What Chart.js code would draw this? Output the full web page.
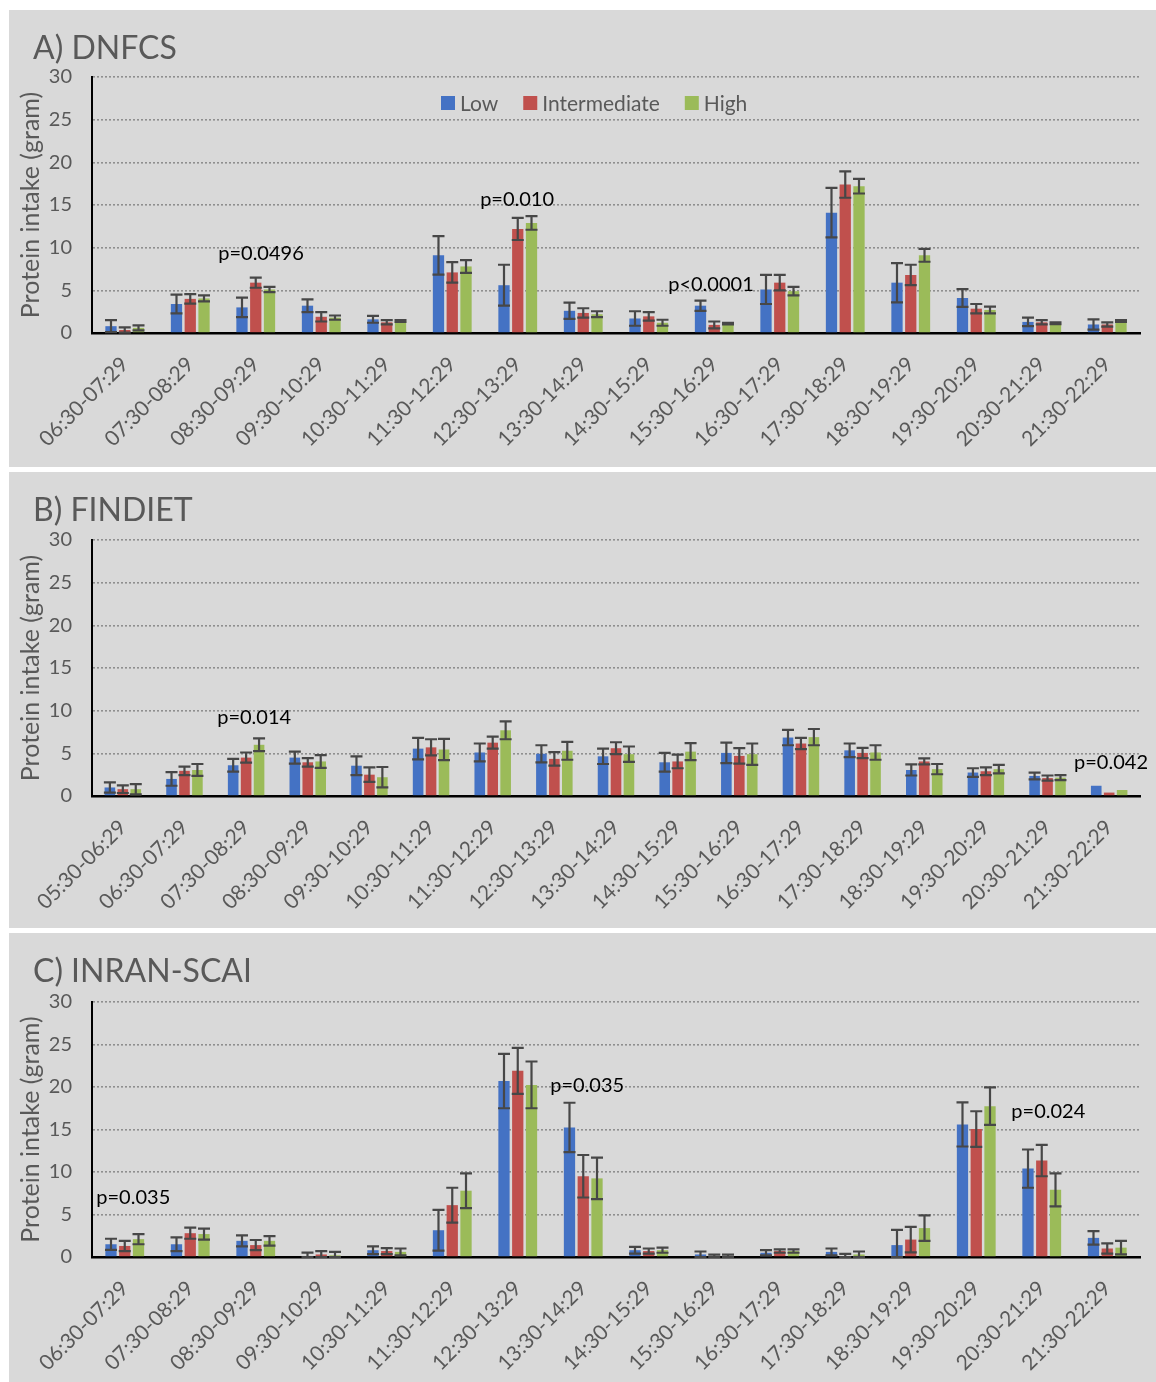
<!DOCTYPE html>
<html>
<head>
<meta charset="utf-8">
<script src="https://cdn.jsdelivr.net/npm/chart.js@4.4.1/dist/chart.umd.min.js"></script>
<style>
  body { margin: 0; background: #ffffff; width: 1156px; height: 1382px; position: relative; overflow: hidden; }
  .panel { position: absolute; left: 9px; width: 1147px; background: #d9d9d9; }
  #panelA { top: 10px; height: 457px; }
  #panelB { top: 472px; height: 456px; }
  #panelC { top: 933px; height: 449px; }
</style>
</head>
<body>
<div class="panel" id="panelA"><canvas id="chartA" width="1147" height="457"></canvas></div>
<div class="panel" id="panelB"><canvas id="chartB" width="1147" height="456"></canvas></div>
<div class="panel" id="panelC"><canvas id="chartC" width="1147" height="449"></canvas></div>
<script>
/* Protein intake by time slot, three surveys */

const seriesNames = ['Low', 'Intermediate', 'High'];

// A) DNFCS
const catsA = ['06:30-07:29', '07:30-08:29', '08:30-09:29', '09:30-10:29', '10:30-11:29', '11:30-12:29',
  '12:30-13:29', '13:30-14:29', '14:30-15:29', '15:30-16:29', '16:30-17:29', '17:30-18:29',
  '18:30-19:29', '19:30-20:29', '20:30-21:29', '21:30-22:29'];
const lowA = [0.8, 3.4, 3.0, 3.2, 1.6, 9.1, 5.6, 2.6, 1.7, 3.2, 5.1, 14.1, 5.9, 4.1, 1.3, 1.0];
const intA = [0.35, 4.0, 5.9, 1.9, 1.25, 7.1, 12.2, 2.35, 1.95, 0.95, 5.9, 17.4, 6.8, 2.85, 1.25, 1.0];
const highA = [0.6, 4.05, 5.1, 1.8, 1.4, 7.8, 12.9, 2.2, 1.2, 1.1, 4.9, 17.2, 9.1, 2.7, 1.15, 1.4];
const errLowA = [0.7, 1.1, 1.15, 0.75, 0.4, 2.25, 2.4, 0.95, 0.85, 0.6, 1.7, 2.9, 2.3, 1.05, 0.5, 0.6];
const errIntA = [0.3, 0.55, 0.6, 0.55, 0.25, 1.2, 1.3, 0.55, 0.5, 0.4, 0.9, 1.55, 1.2, 0.55, 0.25, 0.25];
const errHighA = [0.3, 0.35, 0.3, 0.25, 0.1, 0.75, 0.8, 0.35, 0.35, 0.1, 0.5, 0.85, 0.75, 0.4, 0.1, 0.1];
const pTextA = ['p=0.0496', 'p=0.010', 'p<0.0001'];
const pCatA = [2.08, 5.99, 8.95];
const pValA = [9.26, 15.6, 5.63];

// B) FINDIET
const catsB = ['05:30-06:29', '06:30-07:29', '07:30-08:29', '08:30-09:29', '09:30-10:29', '10:30-11:29',
  '11:30-12:29', '12:30-13:29', '13:30-14:29', '14:30-15:29', '15:30-16:29', '16:30-17:29',
  '17:30-18:29', '18:30-19:29', '19:30-20:29', '20:30-21:29', '21:30-22:29'];
const lowB = [1.0, 2.0, 3.6, 4.5, 3.55, 5.55, 5.1, 4.95, 4.65, 3.95, 5.05, 6.85, 5.35, 3.05, 2.75, 2.35, 1.2];
const intB = [0.8, 2.95, 4.5, 3.95, 2.5, 5.7, 6.25, 4.35, 5.6, 4.05, 4.7, 6.15, 5.05, 4.05, 2.9, 2.1, 0.4];
const highB = [0.8, 3.05, 6.0, 4.05, 2.2, 5.45, 7.7, 5.3, 4.9, 5.2, 4.9, 6.9, 5.1, 3.15, 3.15, 2.15, 0.7];
const errLowB = [0.6, 0.8, 0.75, 0.7, 1.1, 1.25, 1.05, 1.0, 0.9, 1.1, 1.2, 0.9, 0.8, 0.65, 0.5, 0.4, 0];
const errIntB = [0.45, 0.5, 0.6, 0.5, 0.85, 0.95, 0.7, 0.8, 0.7, 0.8, 0.9, 0.65, 0.6, 0.35, 0.45, 0.3, 0];
const errHighB = [0.6, 0.7, 0.75, 0.75, 1.2, 1.25, 1.05, 1.05, 0.9, 1.0, 1.25, 0.95, 0.85, 0.6, 0.5, 0.3, 0];
const pTextB = ['p=0.014', 'p=0.042'];
const pCatB = [2.13, 16.03];
const pValB = [9.14, 3.87];

// C) INRAN-SCAI
const catsC = ['06:30-07:29', '07:30-08:29', '08:30-09:29', '09:30-10:29', '10:30-11:29', '11:30-12:29',
  '12:30-13:29', '13:30-14:29', '14:30-15:29', '15:30-16:29', '16:30-17:29', '17:30-18:29',
  '18:30-19:29', '19:30-20:29', '20:30-21:29', '21:30-22:29'];
const lowC = [1.5, 1.5, 1.9, 0.12, 0.8, 3.15, 20.7, 15.25, 0.8, 0.3, 0.5, 0.6, 1.4, 15.6, 10.4, 2.25];
const intC = [1.3, 2.8, 1.4, 0.3, 0.7, 6.1, 21.9, 9.5, 0.7, 0.12, 0.7, 0.12, 2.05, 15.05, 11.35, 1.0];
const highC = [2.1, 2.7, 1.9, 0.2, 0.6, 7.8, 20.25, 9.25, 0.8, 0.12, 0.7, 0.3, 3.4, 17.75, 7.9, 1.1];
const errLowC = [0.65, 0.8, 0.65, 0.4, 0.45, 2.4, 3.2, 2.9, 0.4, 0.35, 0.3, 0.4, 1.8, 2.6, 2.25, 0.8];
const errIntC = [0.6, 0.65, 0.6, 0.4, 0.35, 2.05, 2.7, 2.5, 0.3, 0.15, 0.2, 0.25, 1.5, 2.1, 1.85, 0.6];
const errHighC = [0.6, 0.65, 0.55, 0.4, 0.4, 2.05, 2.75, 2.45, 0.3, 0.15, 0.2, 0.35, 1.5, 2.2, 1.95, 0.8];
const pTextC = ['p=0.035', 'p=0.035', 'p=0.024'];
const pCatC = [0.13, 7.06, 14.1];
const pValC = [6.94, 20.2, 17.06];

const barColors = ['#4472C4', '#C0504D', '#9BBB59'];
const FONT = 'Lato';
const GREY_TEXT = '#595959';

// error bars drawn from the y scale
const errorBars = {
  id: 'errorBars',
  afterDatasetsDraw(chart) {
    const ctx = chart.ctx;
    const yScale = chart.scales.y;
    ctx.save();
    ctx.strokeStyle = '#474747';
    ctx.lineWidth = 2.2;
    chart.data.datasets.forEach((ds, i) => {
      const meta = chart.getDatasetMeta(i);
      meta.data.forEach((bar, j) => {
        const e = ds.errors[j];
        if (!e) return;
        const v = ds.data[j];
        const top = yScale.getPixelForValue(v + e);
        const bot = yScale.getPixelForValue(Math.max(0, v - e));
        const half = 6;
        ctx.beginPath();
        ctx.moveTo(bar.x, top);
        ctx.lineTo(bar.x, bot);
        ctx.moveTo(bar.x - half, top);
        ctx.lineTo(bar.x + half, top);
        ctx.moveTo(bar.x - half, bot);
        ctx.lineTo(bar.x + half, bot);
        ctx.stroke();
      });
    });
    ctx.restore();
  }
};

// panel title, p values and (optional) legend
const panelText = {
  id: 'panelText',
  afterDraw(chart, args, opts) {
    const ctx = chart.ctx;
    const xScale = chart.scales.x;
    const yScale = chart.scales.y;
    ctx.save();
    ctx.fillStyle = GREY_TEXT;
    ctx.font = '32px ' + FONT;
    ctx.textAlign = 'left';
    ctx.textBaseline = 'alphabetic';
    ctx.fillText(opts.title, 24, 49);

    ctx.fillStyle = '#000000';
    ctx.font = '20px ' + FONT;
    ctx.textAlign = 'center';
    ctx.textBaseline = 'middle';
    opts.pText.forEach((t, k) => {
      ctx.fillText(t, xScale.getPixelForValue(opts.pCat[k]), yScale.getPixelForValue(opts.pVal[k]));
    });

    if (opts.legend) {
      ctx.font = '21px ' + FONT;
      ctx.textAlign = 'left';
      let x = 432;
      const y = 93;
      chart.data.datasets.forEach((ds) => {
        ctx.fillStyle = ds.backgroundColor;
        ctx.fillRect(x, y - 7, 14, 14);
        ctx.fillStyle = GREY_TEXT;
        ctx.fillText(ds.label, x + 19, y + 1);
        x += 19 + ctx.measureText(ds.label).width + 25;
      });
    }
    ctx.restore();
  }
};

function makeDatasets(values, errors) {
  return values.map((vals, i) => {
    return {
      label: seriesNames[i],
      data: vals,
      errors: errors[i],
      backgroundColor: barColors[i],
      categoryPercentage: 0.63,
      barPercentage: 0.82
    };
  });
}

function initChart(target, cats, values, errors, text, plotBottom) {
  const canvas = document.getElementById(target);
  const h = canvas.height;
  return new Chart(canvas, {
    type: 'bar',
    data: {
      labels: cats,
      datasets: makeDatasets(values, errors)
    },
    plugins: [errorBars, panelText],
    options: {
      responsive: false,
      animation: false,
      devicePixelRatio: 1,
      layout: { padding: { top: text.top, right: 16, left: 0, bottom: 0 } },
      plugins: {
        legend: { display: false },
        tooltip: { enabled: false },
        panelText: text
      },
      scales: {
        x: {
          grid: { display: false, drawTicks: false },
          border: { display: true, color: '#000000', width: 2.5 },
          ticks: {
            color: GREY_TEXT,
            font: { family: FONT, size: 21 },
            minRotation: 45,
            maxRotation: 45,
            autoSkip: false,
            padding: 19
          },
          afterFit: (scale) => { scale.height = h - plotBottom; }
        },
        y: {
          min: 0,
          max: 30,
          ticks: {
            stepSize: 5,
            color: GREY_TEXT,
            font: { family: FONT, size: 20 },
            padding: 20
          },
          grid: {
            drawTicks: false,
            color: (c) => c.tick.value === 0 ? 'rgba(0,0,0,0)' : '#8f8f8f',
            lineWidth: 1.6
          },
          border: { display: true, color: '#000000', width: 2, dash: [2, 2] },
          title: {
            display: true,
            text: 'Protein intake (gram)',
            color: GREY_TEXT,
            font: { family: FONT, size: 25 },
            padding: { top: 7, bottom: 0 }
          },
          afterFit: (scale) => { scale.width = 83; }
        }
      }
    }
  });
}

function mainEvent() {
  initChart('chartA', catsA, [lowA, intA, highA], [errLowA, errIntA, errHighA],
    { title: 'A) DNFCS', pText: pTextA, pCat: pCatA, pVal: pValA, legend: true, top: 67 }, 323);
  initChart('chartB', catsB, [lowB, intB, highB], [errLowB, errIntB, errHighB],
    { title: 'B) FINDIET', pText: pTextB, pCat: pCatB, pVal: pValB, legend: false, top: 68 }, 324);
  initChart('chartC', catsC, [lowC, intC, highC], [errLowC, errIntC, errHighC],
    { title: 'C) INRAN-SCAI', pText: pTextC, pCat: pCatC, pVal: pValC, legend: false, top: 69 }, 324);
}

document.addEventListener('DOMContentLoaded', () => mainEvent());
</script>
</body>
</html>
